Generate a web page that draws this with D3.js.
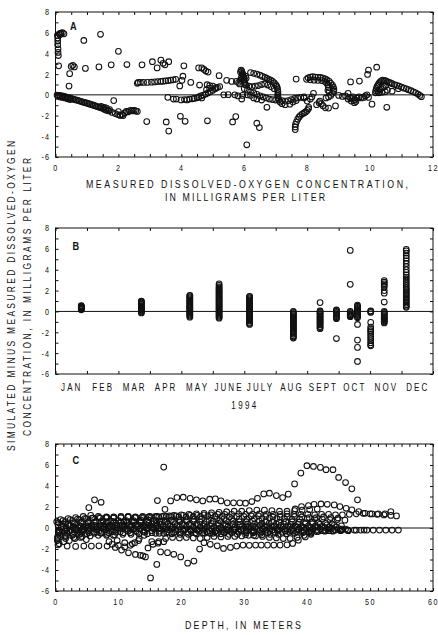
<!DOCTYPE html>
<html><head><meta charset="utf-8">
<script src="https://cdn.jsdelivr.net/npm/d3@7"></script>
<style>
html,body{margin:0;padding:0;background:#fff;}
svg{display:block;}
</style></head><body>
<svg id="chart" width="438" height="635"></svg>
<script>
// ---------- Panel A: residual vs measured dissolved oxygen (mg/L) ----------
const aHighColumn = [[0.06,5.75],[0.07,5.5],[0.07,5.2],[0.07,4.85],[0.08,4.45],[0.08,4.1],[0.09,3.8],[0.1,2.8],[0.12,5.9],[0.17,5.95],[0.22,6.0],[0.27,5.9],[0.14,5.8]];
const aScatter = [[0.45,2.05],[0.43,0.85],[0.5,2.75],[0.55,2.85],[0.6,2.7],[0.95,2.55],[0.9,5.25],[1.43,5.85],[1.38,2.7],[1.77,2.9],[2.0,4.2],[2.27,2.93],[2.75,2.9],[3.08,3.2],[3.23,2.6],[3.35,3.35],[3.42,3.05],[3.48,2.9],[3.6,3.2],[4.08,2.8],[4.05,1.8],[3.95,0.86],[4.02,1.4],[4.55,2.6],[4.65,2.6],[4.72,2.45],[4.78,2.3],[4.85,2.2],[4.3,1.2],[4.58,0.95],[5.2,1.85],[1.85,-0.55],
  [2.9,-2.58],[3.52,-2.62],[3.6,-3.5],[3.97,-2.07],[4.12,-2.55],[4.83,-2.5],[5.63,-2.62],[5.73,-2.1],
  [6.08,-4.82],[6.4,-2.74],[6.48,-3.16],[6.72,-1.2],[7.65,1.52],[8.9,-1.07],[9.38,1.25],[9.66,1.33],[9.95,2.39],[9.92,1.97],[10.21,2.67],[10.53,-1.2],[10.06,-0.9]];
const aTrailDown = [[0.05,-0.02],[0.1,-0.05],[0.15,-0.08],[0.2,-0.1],[0.25,-0.13],[0.3,-0.17],[0.35,-0.22],[0.4,-0.26],[0.45,-0.3],[0.5,-0.35],[0.55,-0.4],[0.6,-0.45],[0.65,-0.49],[0.7,-0.53],[0.75,-0.58],[0.8,-0.62],[0.85,-0.67],[0.9,-0.72],[0.95,-0.76],[1.0,-0.8],[1.05,-0.85],[1.1,-0.9],[1.15,-0.95],[1.2,-1.0],[1.25,-1.05],[1.3,-1.1],[1.35,-1.15],[1.4,-1.2],[1.45,-1.25],[1.5,-1.3],[1.55,-1.4],[1.6,-1.45],[1.65,-1.5],[1.7,-1.55],[1.8,-1.7],[1.9,-1.8],[1.98,-1.9],[2.05,-1.95],[2.12,-1.9],
  [0.08,-0.15],[0.15,-0.2],[0.22,-0.25],[0.3,-0.3],[0.38,-0.38],[0.46,-0.45],[1.45,-1.12],[1.55,-1.2],[1.62,-1.28],[1.72,-1.42],
  [2.0,-1.62],[2.06,-1.99],[2.15,-2.0],[2.2,-1.75],[2.25,-1.6],[2.3,-1.65],[2.35,-1.55],[2.4,-1.5],[2.45,-1.55],[2.5,-1.5],[2.55,-1.55],[2.6,-1.6]];
const aRowMid = [[2.6,1.12],[2.63,1.2],[2.7,1.2],[2.8,1.2],[2.92,1.2],[3.05,1.22],[3.15,1.25],[3.25,1.28],[3.35,1.3],[3.42,1.32],[3.5,1.35],[3.58,1.38],[3.66,1.42],[3.74,1.45],[3.82,1.5]];
const aRowZero = [[3.57,-0.24],[3.75,-0.4],[3.84,-0.4],[3.99,-0.49],[4.1,-0.45],[4.18,-0.49],[4.26,-0.4],[4.35,-0.38],[4.41,-0.34],[4.5,-0.28],[4.55,-0.2],[4.62,-0.1],[4.7,-0.02],[4.78,0.08],[4.85,0.2],[4.92,0.3],[5.0,0.45],[5.08,0.6],[5.15,0.72],[5.22,0.8],[4.82,0.98],[4.9,0.9],[5.0,0.85],[5.1,0.7],[4.8,0.5],[4.9,0.65],[4.65,-0.3]];
const aBlob = [[5.44,1.4],[5.6,1.3],[5.75,1.3],[5.82,1.2],[5.88,2.2],[5.9,2.4],[5.92,2.3],[5.94,2.1],[5.96,1.9],[5.98,1.7],[6.0,1.5],[6.0,1.3],[6.02,1.15],[6.03,1.0],[5.9,1.6],[5.88,1.4],[5.85,1.05],[5.92,1.76],[5.95,2.0],[5.97,1.4],[6.04,1.8],[6.06,1.6],[5.35,0.0],[5.49,0.02],[5.7,0.0],[5.8,-0.1],[5.92,-0.4],[5.95,-0.05],[6.1,0.0],[6.2,-0.05],[6.3,-0.3],[6.4,-0.4],[6.55,-0.5]];
const aTrailCurve = [[6.2,2.15],[6.3,2.08],[6.4,2.0],[6.5,1.9],[6.58,1.78],[6.66,1.68],[6.72,1.6],[6.78,1.5],[6.84,1.42],[6.9,1.3],[6.95,1.15],[7.0,1.0],[7.03,0.85],[7.05,0.7],[7.06,0.5],[7.07,0.3],[7.07,0.1],[7.06,-0.1],[7.08,-0.3],[7.1,-0.5],[7.14,-0.7],[7.2,-0.85]];
const aTrailInner = [[6.05,0.95],[6.15,0.85],[6.25,0.8],[6.35,0.85],[6.45,0.9],[6.55,1.0],[6.65,1.05],[6.75,0.95],[6.85,0.8],[6.95,0.6],[6.0,0.6],[6.1,0.45],[6.2,0.3],[6.3,0.2],[6.4,0.05],[6.5,-0.1],[6.6,-0.2],[6.7,-0.3],[6.8,-0.4],[6.9,-0.45],[7.0,-0.5],[7.2,-0.55],[7.3,-0.6],[7.4,-0.55],[7.5,-0.45],[7.6,-0.35],[7.7,-0.3],[7.8,-0.25],[7.9,-0.2],[7.3,-0.95],[7.45,-0.9],[7.55,-0.7],[7.65,-0.55]];
const aTrailUp = [[7.62,-3.35],[7.62,-3.1],[7.63,-2.85],[7.66,-2.6],[7.7,-2.35],[7.74,-2.15],[7.78,-2.0],[7.84,-1.85],[7.9,-1.75],[7.95,-1.65],[8.0,-1.5],[8.04,-1.35],[8.05,-1.2],[7.9,-0.3],[8.0,-0.6],[8.1,-0.4],[8.15,-0.2],[8.2,0.15],[8.3,-0.95],[8.38,-0.75],[8.45,-0.85],[8.5,-1.05],[8.58,-1.25],[8.68,-1.28],[8.4,-0.6]];
const aTrailHook = [[7.98,1.5],[8.03,1.65],[8.1,1.72],[8.18,1.75],[8.26,1.72],[8.34,1.7],[8.42,1.68],[8.5,1.62],[8.57,1.55],[8.63,1.45],[8.7,1.3],[8.75,1.12],[8.8,0.95],[8.83,0.75],[8.85,0.55],[8.84,0.35],[8.8,0.15],[8.75,-0.05],[8.68,-0.2],[8.6,-0.3],[8.1,1.45],[8.22,1.42],[8.34,1.4],[8.46,1.38],[8.56,1.3],[8.62,1.15],[8.66,0.95],[8.68,0.7],[8.66,0.45],[8.7,0.3]];
const aNearZero = [[9.0,-0.05],[9.12,-0.15],[9.22,-0.1],[9.3,0.15],[9.35,-0.25],[9.42,-0.35],[9.48,-0.55],[9.52,-0.45],[9.58,-0.3],[9.65,-0.2],[9.72,-0.3],[9.8,-0.25],[9.85,-0.1],[9.9,0.0],[9.95,-0.25],[9.4,-0.6],[9.5,-0.75],[9.3,-0.4],[9.45,-0.2],[9.55,-0.65]];
const aTrailEnd = [[10.17,0.2],[10.18,0.4],[10.2,0.6],[10.22,0.8],[10.25,0.95],[10.28,1.1],[10.32,1.25],[10.36,1.35],[10.4,1.42],[10.45,1.4],[10.5,1.35],[10.55,1.28],[10.25,0.35],[10.3,0.5],[10.35,0.6],[10.4,0.7],[10.45,0.8],[10.5,0.9],[10.28,0.2],[10.38,0.25],[10.48,0.3],[10.55,0.45],
  [10.6,1.2],[10.65,1.15],[10.7,1.08],[10.78,1.0],[10.85,0.92],[10.92,0.85],[11.0,0.75],[11.08,0.65],[11.15,0.58],[11.22,0.5],[11.3,0.4],[11.38,0.3],[11.45,0.2],[11.52,0.08],[11.58,-0.05],[11.63,-0.18],[10.7,0.35],[10.9,0.6]];

// ---------- Panel B: residual by sampling date, 1994 (months from Jan 1) ----------
const monthNames = ["JAN","FEB","MAR","APR","MAY","JUNE","JULY","AUG","SEPT","OCT","NOV","DEC"];
const sampleMonths = [0.82, 2.73, 4.27, 5.2, 6.17, 7.56, 8.41, 8.93, 9.37, 9.6, 10.02, 10.45, 11.15];
const residualsByDate = [
  [0.15,0.2,0.25,0.3,0.36,0.4,0.45,0.5,0.55],
  [-0.15,-0.05,0.05,0.15,0.2,0.3,0.4,0.45,0.55,0.65,0.7,0.8,0.9,0.95,1.0],
  [-0.55,-0.45,-0.35,-0.25,-0.15,-0.05,0.05,0.15,0.25,0.35,0.4,0.5,0.6,0.7,0.8,0.9,1.0,1.1,1.2,1.3,1.4,1.5,1.55],
  [-0.65,-0.55,-0.45,-0.35,-0.25,-0.15,-0.05,0.05,0.15,0.25,0.35,0.45,0.55,0.65,0.75,0.85,0.95,1.05,1.15,1.25,1.35,1.45,1.55,1.65,1.75,1.85,1.95,2.05,2.15,2.25,2.35,2.5,2.65],
  [-1.25,-1.15,-1.05,-0.9,-0.8,-0.7,-0.6,-0.5,-0.4,-0.3,-0.2,-0.1,0.0,0.1,0.2,0.3,0.4,0.5,0.6,0.7,0.8,0.9,1.0,1.1,1.2,1.3,1.4,1.45],
  [-2.55,-2.45,-2.35,-2.2,-2.1,-2.0,-1.9,-1.8,-1.7,-1.6,-1.5,-1.4,-1.3,-1.2,-1.1,-1.0,-0.9,-0.8,-0.7,-0.6,-0.5,-0.4,-0.3,-0.2,-0.1,0.0],
  [-1.65,-1.55,-1.45,-1.3,-1.2,-1.1,-1.0,-0.9,-0.8,-0.7,-0.6,-0.5,-0.4,-0.3,-0.2,-0.1,0.0,0.05,0.85],
  [-2.6,-0.7,-0.6,-0.5,-0.4,-0.3,-0.2,-0.1,0.0,0.1,0.15],
  [-0.5,-0.45,-0.4,-0.35,-0.3,-0.2,-0.1,0.0,2.6,5.85],
  [-4.8,-3.45,-2.75,-1.25,-0.6,-0.5,-0.4,-0.3,-0.2,-0.1,0.0,0.1,0.2,0.3,0.4,0.5,0.6],
  [-3.3,-3.2,-3.0,-2.8,-2.6,-2.4,-2.2,-2.0,-1.85,-1.7,-1.5,-1.05,-0.1,0.0,0.05],
  [-1.1,-1.0,-0.9,-0.8,-0.7,-0.6,-0.5,-0.4,-0.3,-0.2,-0.1,0.0,0.9,1.75,2.0,2.35,2.5,2.65,2.8,2.95],
  [0.4,0.5,0.65,0.8,0.95,1.1,1.25,1.4,1.55,1.7,1.85,2.0,2.15,2.3,2.5,2.7,2.9,3.1,3.3,3.5,3.75,4.0,4.3,4.6,4.85,5.1,5.35,5.6,5.8,5.95]
];

// ---------- Panel C: residual vs depth (m) ----------
// profiles sampled at regular depth intervals: first depth, spacing, residuals
const cProfiles = [
  {d0:0.5, dz:1.0, v:[-0.4,-0.3,-0.2,-0.2,-0.15,-0.1,-0.1,-0.05,0,0,-0.05,-0.1,-0.1,-0.05,0,0,-0.05,-0.1,-0.1,-0.15,-0.15,-0.2,-0.2,-0.2,-0.25,-0.25,-0.2,-0.2,-0.2,-0.25,-0.25,-0.25,-0.2,-0.2,-0.2,-0.2,-0.25,-0.25,-0.2,-0.2,-0.2,-0.2,-0.25,-0.25,-0.2,-0.2,-0.2,-0.2,-0.2,-0.2,-0.2,-0.2,-0.2,-0.2,-0.2]},
  {d0:0.3, dz:1.25, v:[-0.9,-0.7,-0.6,-0.5,-0.45,-0.4,-0.4,-0.35,-0.35,-0.3,-0.3,-0.3,-0.25,-0.3,-0.35,-0.35,-0.3,-0.3,-0.3,-0.35,-0.35,-0.35,-0.3,-0.3,-0.3,-0.35,-0.35,-0.3,-0.3,-0.3,-0.3,-0.3,-0.35,-0.35,-0.3,-0.3,-0.25,-0.25,-0.2,-0.2]},
  {d0:0.6, dz:1.15, v:[-0.2,0,0.1,0.15,0.2,0.2,0.25,0.25,0.3,0.3,0.3,0.25,0.3,0.35,0.35,0.4,0.4,0.35,0.35,0.4,0.4,0.45,0.45,0.4,0.4,0.35,0.4,0.4,0.45,0.45,0.4,0.4,0.35,0.35,0.4,0.4,0.35,0.3,0.25,0.2]},
  {d0:0.4, dz:1.2, v:[0.3,0.4,0.5,0.55,0.6,0.6,0.65,0.65,0.7,0.7,0.7,0.75,0.75,0.7,0.7,0.75,0.8,0.8,0.85,0.85,0.8,0.85,0.9,0.9,0.85,0.85,0.9,0.9,0.95,0.9,0.9,0.85,0.85,0.9,0.9,0.85,0.8,0.8,0.75]},
  {d0:0.5, dz:1.1, v:[0.5,0.6,0.7,0.8,0.9,0.95,0.95,1.0,1.0,1.0,1.05,1.0,1.0,1.05,1.1,1.1,1.15,1.15,1.2,1.2,1.2,1.25,1.25,1.3,1.3,1.3,1.35,1.3,1.3,1.35,1.3,1.3,1.3,1.35,1.3,1.3,1.3,1.25,1.3,1.3,1.25,1.25,1.3,1.35,1.4,1.35,1.3,1.25,1.2]},
  {d0:0.3, dz:1.3, v:[-1.2,-1.0,-0.9,-0.8,-0.75,-0.7,-0.7,-0.65,-0.6,-0.6,-0.55,-0.55,-0.5,-0.5,-0.55,-0.6,-0.6,-0.55,-0.5,-0.5,-0.55,-0.6,-0.6,-0.65,-0.7,-0.65,-0.6,-0.6,-0.55,-0.5,-0.45,-0.4]},
  {d0:0.8, dz:1.2, v:[0.8,0.9,1.0,1.1,1.2,1.1,1.0,0.95,1.0,1.05,1.0,1.0,1.0,1.05,1.1,1.2,1.25,1.3,1.35,1.4,1.45,1.5,1.55,1.6,1.6,1.65,1.7,1.7,1.65,1.6,1.6,1.65,1.7,1.75,1.8]},
  {d0:0.5, dz:1.3, v:[-0.5,-0.3,-0.1,0.1,0.2,0.3,0.45,0.5,0.55,0.6,0.5,0.45,0.5,0.55]},
  {d0:0.2, dz:1.0, v:[0.6,0.4,0.2,0.0,-0.2,-0.3,-0.4,-0.5,-0.6,-0.7]},
  {d0:0.4, dz:0.9, v:[-1.6,-1.3,-1.2,-1.0,-0.9,-1.1]},
  {d0:1.0, dz:1.1, v:[-0.5,-0.3,-0.2,-0.1,0,0.05,0.1,0.1,0.15,0.1,0.1,0.15,0.1,0.1,0.05,0.1,0.1,0.15,0.15,0.1,0.1,0.1,0.05,0.05,0.1,0.1,0.15,0.1,0.1,0.05,0.05,0.05,0.1,0.1,0.1,0.05,0.05,0.1,0.05,0,-0.05,-0.1]},
  {d0:0.9, dz:1.05, v:[0.1,0.3,0.4,0.5,0.5,0.55,0.55,0.6,0.6,0.55,0.5,0.55,0.6,0.6,0.65,0.6,0.6,0.55,0.6,0.65,0.65,0.6,0.6,0.65,0.7,0.7,0.65,0.6,0.6,0.65,0.65,0.6,0.6,0.55,0.6,0.6,0.55,0.5,0.55,0.5,0.45,0.4]},
  {d0:0.7, dz:1.15, v:[-0.7,-0.5,-0.4,-0.3,-0.2,-0.15,-0.1,-0.1,-0.05,-0.1,-0.15,-0.1,-0.05,-0.1,-0.1,-0.15,-0.15,-0.1,-0.1,-0.1,-0.05,-0.1,-0.1,-0.15,-0.1,-0.1,-0.05,-0.05,-0.1,-0.1,-0.15,-0.1,-0.1,-0.1,-0.05,-0.1,-0.1,-0.1,-0.15,-0.1]},
  {d0:0.6, dz:1.1, v:[-0.3,-0.1,0.05,0.15,0.2,0.25,0.2,0.2,0.25,0.2,0.2,0.25,0.2,0.25,0.25,0.2,0.2,0.25,0.3,0.25,0.25,0.2,0.2,0.25,0.25,0.3,0.25,0.2,0.2,0.25,0.2,0.2,0.25,0.2,0.2,0.15,0.2,0.2,0.15,0.1,0.1]},
  {d0:0.4, dz:1.15, v:[-1.0,-0.8,-0.7,-0.6,-0.55,-0.5,-0.45,-0.45,-0.4,-0.45,-0.45,-0.4,-0.4,-0.45,-0.5,-0.45,-0.45,-0.4,-0.4,-0.45,-0.45,-0.5,-0.5,-0.45,-0.45,-0.4,-0.45,-0.45,-0.5,-0.45,-0.4,-0.4,-0.4,-0.35,-0.35,-0.3,-0.3,-0.25,-0.25,-0.2,-0.2]},
  {d0:1.2, dz:1.15, v:[0.7,0.8,0.85,0.9,0.95,1.0,1.05,1.05,1.1,1.1,1.05,1.1,1.1,1.1,1.15,1.1,1.05,1.05,1.1,1.1,1.15,1.1,1.1,1.05,1.1,1.1,1.15,1.15,1.1,1.05,1.05,1.1,1.1,1.05,1.0,1.0,1.05,1.0,0.95]}
];
const cLowerLeft = [[0.6,-1.5],[1.85,-1.72],[3.2,-1.75],[4.5,-1.72],[5.7,-1.72],[6.9,-1.7],[8.2,-1.72],[9.5,-1.85],[10.5,-2.1],[11.6,-2.36],[12.7,-2.52],[13.5,-2.6],[13.9,-2.65],[14.3,-2.75]];
const cLowerMid = [[8.5,-1.3],[9.8,-1.2],[11.0,-1.4],[12.2,-1.5],[13.3,-1.0],[14.1,-0.7],[15.3,-1.3],[16.4,-1.3],[17.5,-1.0],[18.6,-0.9],[19.7,-0.95],[20.8,-0.9],[21.9,-0.95],[23.0,-1.0],[24.1,-0.9],[25.2,-0.8],[26.3,-0.85],[27.4,-0.8],[28.5,-0.8],[29.6,-0.75],[30.7,-0.7],[31.8,-0.75],[32.9,-0.8],[34.0,-0.9],[35.1,-0.95],[36.2,-1.0],[37.3,-1.0],[38.4,-0.9],[39.5,-0.7],[40.6,-0.5]];
const cLowerDeep = [[15.1,-4.75],[16.1,-3.47],[16.7,-2.28],[17.8,-2.35],[18.8,-2.5],[19.9,-2.75],[21.0,-3.35],[22.0,-3.15],[22.9,-2.0]];
const cLowerRight = [[23.6,-1.4],[24.6,-1.55],[25.7,-1.7],[26.7,-1.95],[27.8,-1.85],[28.8,-1.72],[29.8,-1.63],[30.8,-1.65],[31.8,-1.63],[32.7,-1.63],[33.7,-1.63],[34.7,-1.63],[35.7,-1.63],[36.8,-1.6],[37.7,-1.47],[38.6,-1.16],[39.7,-0.85],[40.6,-0.6]];
const cLowerExtra = [[9.0,-1.55],[10.0,-1.65],[11.0,-1.8],[11.9,-1.65],[12.6,-1.4],[13.2,-1.2],[14.7,-1.9],[15.5,-1.55],[16.3,-1.45],[17.2,-1.3]];
const cUpper = [[5.3,1.94],[6.2,2.68],[7.25,2.45],[17.2,5.8],[17.4,1.78],[16.2,2.61],[18.3,2.58],[19.3,2.9],[20.3,2.93],[21.4,2.83],[22.4,2.68],[23.4,2.58],[24.5,2.74],[25.4,2.77],[26.3,2.58],[27.3,2.4],[28.3,2.4],[29.3,2.4],[30.2,2.36],[31.2,2.52],[32.1,2.83],[33.1,3.25],[34.0,3.31],[35.1,3.09],[36.1,2.9],[37.0,3.22],[38.0,4.2],[39.0,5.23],[39.96,5.93],[41.0,5.86],[42.1,5.77],[43.0,5.55],[44.1,5.55],[45.0,4.81],[46.1,4.33],[47.1,3.73],[48.0,2.68]];
const cUpperRight = [[38.1,1.81],[39.1,2.04],[40.2,2.13],[41.1,2.26],[42.2,2.29],[43.2,2.26],[44.3,2.2],[45.2,2.04],[46.2,1.88],[47.1,1.72],[48.2,1.56],[49.2,1.4],[50.3,1.34],[51.3,1.34],[52.4,1.34],[53.3,1.56],[54.2,1.15]];

const residualTicks = [-6,-4,-2,0,2,4,6,8];
const doTicks = [0,2,4,6,8,10,12];
const depthTicks = [0,10,20,30,40,50,60];

// ---------- drawing ----------
const FONT = "'Liberation Sans',Arial,sans-serif";
const NARROW = 0.8;             // horizontal squeeze giving a narrow face
const SQUEEZE = `scale(${NARROW},1)`;
const INK = "#111";
const svg = d3.select("#chart");
const left = 55.5, right = 433;

function frame(g, x, y, xMinor, yMinor, xLabelTicks) {
  const [xa, xb] = x.range();
  const [yb, ya] = y.range();
  g.append("rect").attr("x", xa).attr("y", ya).attr("width", xb - xa).attr("height", yb - ya)
    .attr("fill", "none").attr("stroke", INK).attr("stroke-width", 1);
  g.append("line").attr("x1", xa).attr("x2", xb).attr("y1", y(0)).attr("y2", y(0))
    .attr("stroke", INK).attr("stroke-width", 1);
  const put = (axis, tr) => {
    const a = g.append("g").attr("transform", tr).call(axis);
    a.select(".domain").remove();
    a.attr("color", INK).attr("font-family", FONT).attr("font-size", 9);
    a.selectAll("line").attr("stroke-width", 1);
    return a;
  };
  put(d3.axisBottom(x).tickValues(xMinor).tickSizeInner(-3).tickSizeOuter(0).tickFormat(""), `translate(0,${yb})`);
  put(d3.axisTop(x).tickValues(xMinor).tickSizeInner(-3).tickSizeOuter(0).tickFormat(""), `translate(0,${ya})`);
  put(d3.axisLeft(y).tickValues(yMinor).tickSizeInner(-3).tickSizeOuter(0).tickFormat(""), `translate(${xa},0)`);
  put(d3.axisRight(y).tickValues(yMinor).tickSizeInner(-3).tickSizeOuter(0).tickFormat(""), `translate(${xb},0)`);
  const yl = put(d3.axisLeft(y).tickValues(residualTicks).tickSize(0).tickPadding(7).tickFormat(d => String(d)), `translate(${xa},0)`);
  yl.selectAll("text").attr("letter-spacing", 1.2).attr("transform", SQUEEZE);
  if (xLabelTicks) {
    const xl = put(d3.axisBottom(x).tickValues(xLabelTicks).tickSize(0).tickPadding(8).tickFormat(d => String(d)), `translate(0,${yb})`);
    xl.selectAll("text").attr("letter-spacing", 2).attr("transform", SQUEEZE);
  }
}

function dots(g, pts, x, y) {
  g.append("g").selectAll("circle").data(pts).join("circle")
    .attr("cx", d => x(d[0])).attr("cy", d => y(d[1])).attr("r", 2.85)
    .attr("fill", "none").attr("stroke", INK).attr("stroke-width", 1.05);
}

// text placed at (x,y), optionally rotated, squeezed to a narrow face
function label(txt, x, y, opts = {}) {
  const rot = opts.rotate ? ` rotate(${opts.rotate})` : "";
  const t = svg.append("text").attr("x", 0).attr("y", 0).text(txt)
    .attr("transform", `translate(${x},${y})${rot} ${SQUEEZE}`)
    .attr("font-family", FONT).attr("font-size", opts.size || 10.5).attr("fill", INK)
    .attr("text-anchor", opts.anchor || "middle");
  if (opts.len) t.attr("textLength", opts.len / NARROW).attr("lengthAdjust", "spacing");
  if (opts.ls) t.attr("letter-spacing", opts.ls);
  if (opts.bold) t.attr("font-weight", "bold");
  return t;
}

const yMinor = d3.range(-6, 8.01, 1);

// Panel A
{
  const x = d3.scaleLinear().domain([0, 12]).range([left, right]);
  const y = d3.scaleLinear().domain([-6, 8]).range([157, 12]);
  const g = svg.append("g");
  frame(g, x, y, d3.range(0, 12.01, 0.5), yMinor, doTicks);
  dots(g, [].concat(aHighColumn, aScatter, aTrailDown, aRowMid, aRowZero, aBlob, aTrailCurve, aTrailInner, aTrailUp, aTrailHook, aNearZero, aTrailEnd), x, y);
  label("A", 70, 30, {size: 11.5, bold: true, anchor: "start"});
  label("MEASURED DISSOLVED-OXYGEN CONCENTRATION,", 247, 188, {len: 322, size: 11});
  label("IN MILLIGRAMS PER LITER", 245, 201, {len: 160, size: 11});
}

// Panel B
{
  const x = d3.scaleLinear().domain([0, 12]).range([left, right]);
  const y = d3.scaleLinear().domain([-6, 8]).range([374, 228]);
  const g = svg.append("g");
  frame(g, x, y, d3.range(0, 12.01, 1), yMinor, null);
  const pts = [];
  sampleMonths.forEach((m, i) => residualsByDate[i].forEach(v => pts.push([m, v])));
  dots(g, pts, x, y);
  const ml = g.append("g").attr("transform", "translate(0,374)")
    .call(d3.axisBottom(x).tickValues(d3.range(0.5, 12, 1)).tickSize(0).tickPadding(10)
      .tickFormat((d, i) => monthNames[i]));
  ml.select(".domain").remove();
  ml.attr("font-family", FONT).attr("font-size", 10).attr("color", INK);
  ml.selectAll("text").attr("letter-spacing", 2.6).attr("transform", SQUEEZE);
  label("B", 72.5, 250, {size: 11.5, bold: true, anchor: "start"});
  label("1994", 245, 409, {size: 10, ls: 3});
}

// Panel C
{
  const x = d3.scaleLinear().domain([0, 60]).range([left, right]);
  const y = d3.scaleLinear().domain([-6, 8]).range([591, 444]);
  const g = svg.append("g");
  frame(g, x, y, d3.range(0, 60.01, 1.25), yMinor, depthTicks);
  const pts = [];
  cProfiles.forEach(p => p.v.forEach((v, i) => pts.push([p.d0 + i * p.dz, v])));
  dots(g, pts.concat(cLowerLeft, cLowerMid, cLowerDeep, cLowerRight, cLowerExtra, cUpper, cUpperRight), x, y);
  label("C", 72.5, 464, {size: 11.5, bold: true, anchor: "start"});
  label("DEPTH, IN METERS", 243, 629, {len: 116, size: 11});
}

// shared y-axis title
label("SIMULATED MINUS MEASURED DISSOLVED-OXYGEN", 15, 296, {len: 310, rotate: -90});
label("CONCENTRATION, IN MILLIGRAMS PER LITER", 30.5, 297, {len: 278, rotate: -90});
</script></body></html>
